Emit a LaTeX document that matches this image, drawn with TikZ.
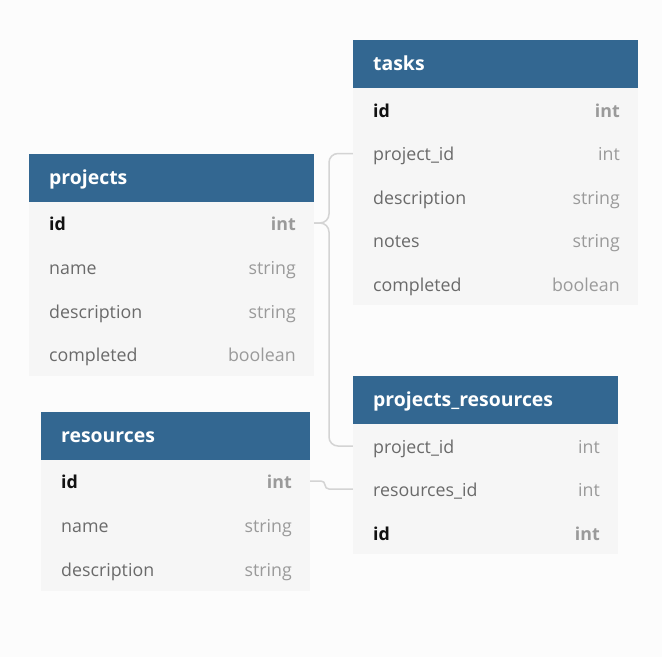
\documentclass[tikz,border=0pt]{standalone}
\usepackage{fontspec}
\setmainfont{Open Sans}
\definecolor{hdr}{HTML}{336791}
\definecolor{bodybg}{HTML}{F6F6F6}
\definecolor{pagebg}{HTML}{FCFCFC}
\definecolor{nametxt}{HTML}{6A6A6A}
\definecolor{typetxt}{HTML}{9A9A9A}
\definecolor{keytxt}{HTML}{111111}
\definecolor{link}{HTML}{D4D4D4}
\begin{document}
\begin{tikzpicture}[x=1pt,y=-1pt,
  hdrbox/.style={fill=hdr,draw=none},
  bodybox/.style={fill=bodybg,draw=none},
  title/.style={anchor=mid west,inner sep=0pt,yshift=-4pt,text=white,font=\fontsize{19.4}{22}\selectfont\bfseries},
  colname/.style={anchor=mid west,inner sep=0pt,yshift=-4.5pt,text=nametxt,font=\fontsize{17.8}{20}\selectfont},
  coltype/.style={anchor=mid east,inner sep=0pt,yshift=-4.5pt,text=typetxt,font=\fontsize{17.8}{20}\selectfont},
  keyname/.style={anchor=mid west,inner sep=0pt,yshift=-4.5pt,text=keytxt,font=\fontsize{17.8}{20}\selectfont\bfseries},
  keytype/.style={anchor=mid east,inner sep=0pt,yshift=-4.5pt,text=typetxt,font=\fontsize{17.8}{20}\selectfont\bfseries},
  rowbox/.style={draw=none,inner sep=0pt,minimum height=43pt},
  linkline/.style={draw=link,line width=1.5pt}
]
\useasboundingbox (0,0) rectangle (662,657);
\fill[pagebg] (0,0) rectangle (662,657);

% ---------- tasks ----------
\fill[bodybox] (353,88) rectangle (638,305);
\fill[hdrbox] (353,40) rectangle (638,88);
\node[title] (tasks-title) at (373,64) {tasks};
\node[rowbox,minimum width=285pt] (tasks-id) at (495.5,110) {};
\node[rowbox,minimum width=285pt] (tasks-pid) at (495.5,153.5) {};
\node[rowbox,minimum width=285pt] (tasks-desc) at (495.5,197) {};
\node[rowbox,minimum width=285pt] (tasks-notes) at (495.5,240.5) {};
\node[rowbox,minimum width=285pt] (tasks-comp) at (495.5,284) {};
\node[keyname] at (373,110) {id};            \node[keytype] at (620,110) {int};
\node[colname] at (373,153.5) {project\_id}; \node[coltype] at (620,153.5) {int};
\node[colname] at (373,197) {description};   \node[coltype] at (620,197) {string};
\node[colname] at (373,240.5) {notes};       \node[coltype] at (620,240.5) {string};
\node[colname] at (373,284) {completed};     \node[coltype] at (620,284) {boolean};

% ---------- projects ----------
\fill[bodybox] (29,202) rectangle (314,376);
\fill[hdrbox] (29,154) rectangle (314,202);
\node[title] (projects-title) at (49,178) {projects};
\node[rowbox,minimum width=285pt] (projects-id) at (171.5,223) {};
\node[rowbox,minimum width=285pt] (projects-name) at (171.5,267) {};
\node[rowbox,minimum width=285pt] (projects-desc) at (171.5,311) {};
\node[rowbox,minimum width=285pt] (projects-comp) at (171.5,354) {};
\node[keyname] at (49,223) {id};           \node[keytype] at (296,223) {int};
\node[colname] at (49,267) {name};         \node[coltype] at (296,267) {string};
\node[colname] at (49,311) {description};  \node[coltype] at (296,311) {string};
\node[colname] at (49,354) {completed};    \node[coltype] at (296,354) {boolean};

% ---------- resources ----------
\fill[bodybox] (41,460) rectangle (310,591);
\fill[hdrbox] (41,412) rectangle (310,460);
\node[title] (resources-title) at (61,436) {resources};
\node[rowbox,minimum width=269pt] (resources-id) at (175.5,481) {};
\node[rowbox,minimum width=269pt] (resources-name) at (175.5,525) {};
\node[rowbox,minimum width=269pt] (resources-desc) at (175.5,569) {};
\node[keyname] at (61,481) {id};           \node[keytype] at (292,481) {int};
\node[colname] at (61,525) {name};         \node[coltype] at (292,525) {string};
\node[colname] at (61,569) {description};  \node[coltype] at (292,569) {string};

% ---------- projects_resources ----------
\fill[bodybox] (353,424) rectangle (618,554);
\fill[hdrbox] (353,376) rectangle (618,424);
\node[title] (pr-title) at (373,400) {projects\_resources};
\node[rowbox,minimum width=265pt] (pr-pid) at (485.5,446) {};
\node[rowbox,minimum width=265pt] (pr-rid) at (485.5,489) {};
\node[rowbox,minimum width=265pt] (pr-id) at (485.5,533) {};
\node[colname] at (373,446) {project\_id};   \node[coltype] at (600,446) {int};
\node[colname] at (373,489) {resources\_id}; \node[coltype] at (600,489) {int};
\node[keyname] at (373,533) {id};            \node[keytype] at (600,533) {int};

% ---------- connectors ----------
\draw[linkline,rounded corners=9pt] (projects-id.east) -- (329,223) -- (329,153.5) -- (tasks-pid.west);
\draw[linkline,rounded corners=9pt] (projects-id.east) -- (329,223) -- (329,446) -- (pr-pid.west);
\draw[linkline,rounded corners=4pt] (resources-id.east) -- (325,481) -- (325,489) -- (pr-rid.west);
\end{tikzpicture}
\end{document}
